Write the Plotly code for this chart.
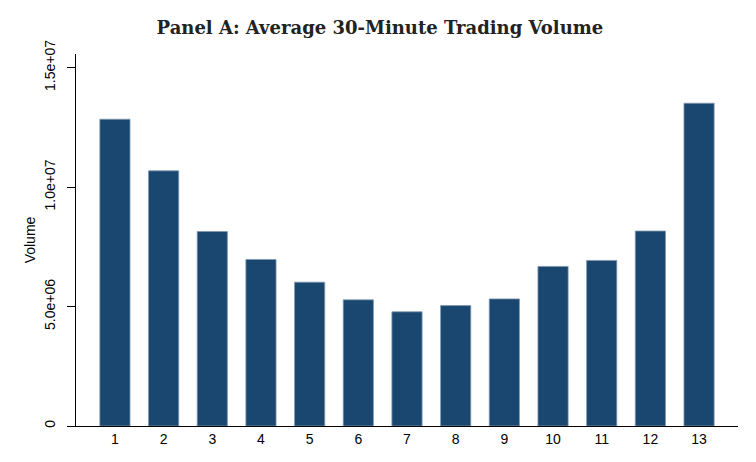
import plotly.graph_objects as go

# half-hour interval index and average volume per interval
intervals = list(range(1, 14))
volume = [12.84e6, 10.68e6, 8.14e6, 6.97e6, 6.02e6, 5.28e6, 4.78e6,
          5.04e6, 5.32e6, 6.68e6, 6.93e6, 8.16e6, 13.51e6]

ytick_vals = [0, 5e6, 1e7, 1.5e7]
ytick_text = ["0", "5.0e+06", "1.0e+07", "1.5e+07"]

bars = go.Bar(
    x=intervals,
    y=volume,
    width=0.62,
    marker=dict(color="#1a476f", line=dict(color="#7f97b0", width=0.8)),
)

fig = go.Figure(data=[bars])

# the page body adds ~8px offset, margins account for it
fig.update_layout(
    width=756,
    height=462,
    paper_bgcolor="white",
    plot_bgcolor="white",
    showlegend=False,
    margin=dict(l=68, r=26, t=46, b=44),
    title=dict(
        text="<b>Panel A: Average 30-Minute Trading Volume</b>",
        x=0.492,
        xanchor="center",
        y=0.958,
        yanchor="middle",
        font=dict(family="DejaVu Serif", size=18, color="#222222"),
    ),
    font=dict(family="Liberation Sans", color="black"),
)

fig.update_xaxes(
    range=[0.2, 13.8],
    tickvals=intervals,
    ticks="",
    showgrid=False,
    zeroline=False,
    showline=True,
    linecolor="black",
    linewidth=1,
    automargin=False,
    tickfont=dict(size=14),
)

fig.update_yaxes(
    range=[0, 1.557e7],
    tickvals=ytick_vals,
    ticktext=ytick_text,
    tickangle=-90,
    ticks="outside",
    ticklen=8,
    tickcolor="black",
    ticklabelstandoff=6,
    showgrid=False,
    zeroline=False,
    showline=True,
    linecolor="black",
    linewidth=1,
    automargin=False,
    tickfont=dict(size=14),
    title=dict(text="Volume", font=dict(size=14), standoff=3),
)

fig.write_html("out.html")
